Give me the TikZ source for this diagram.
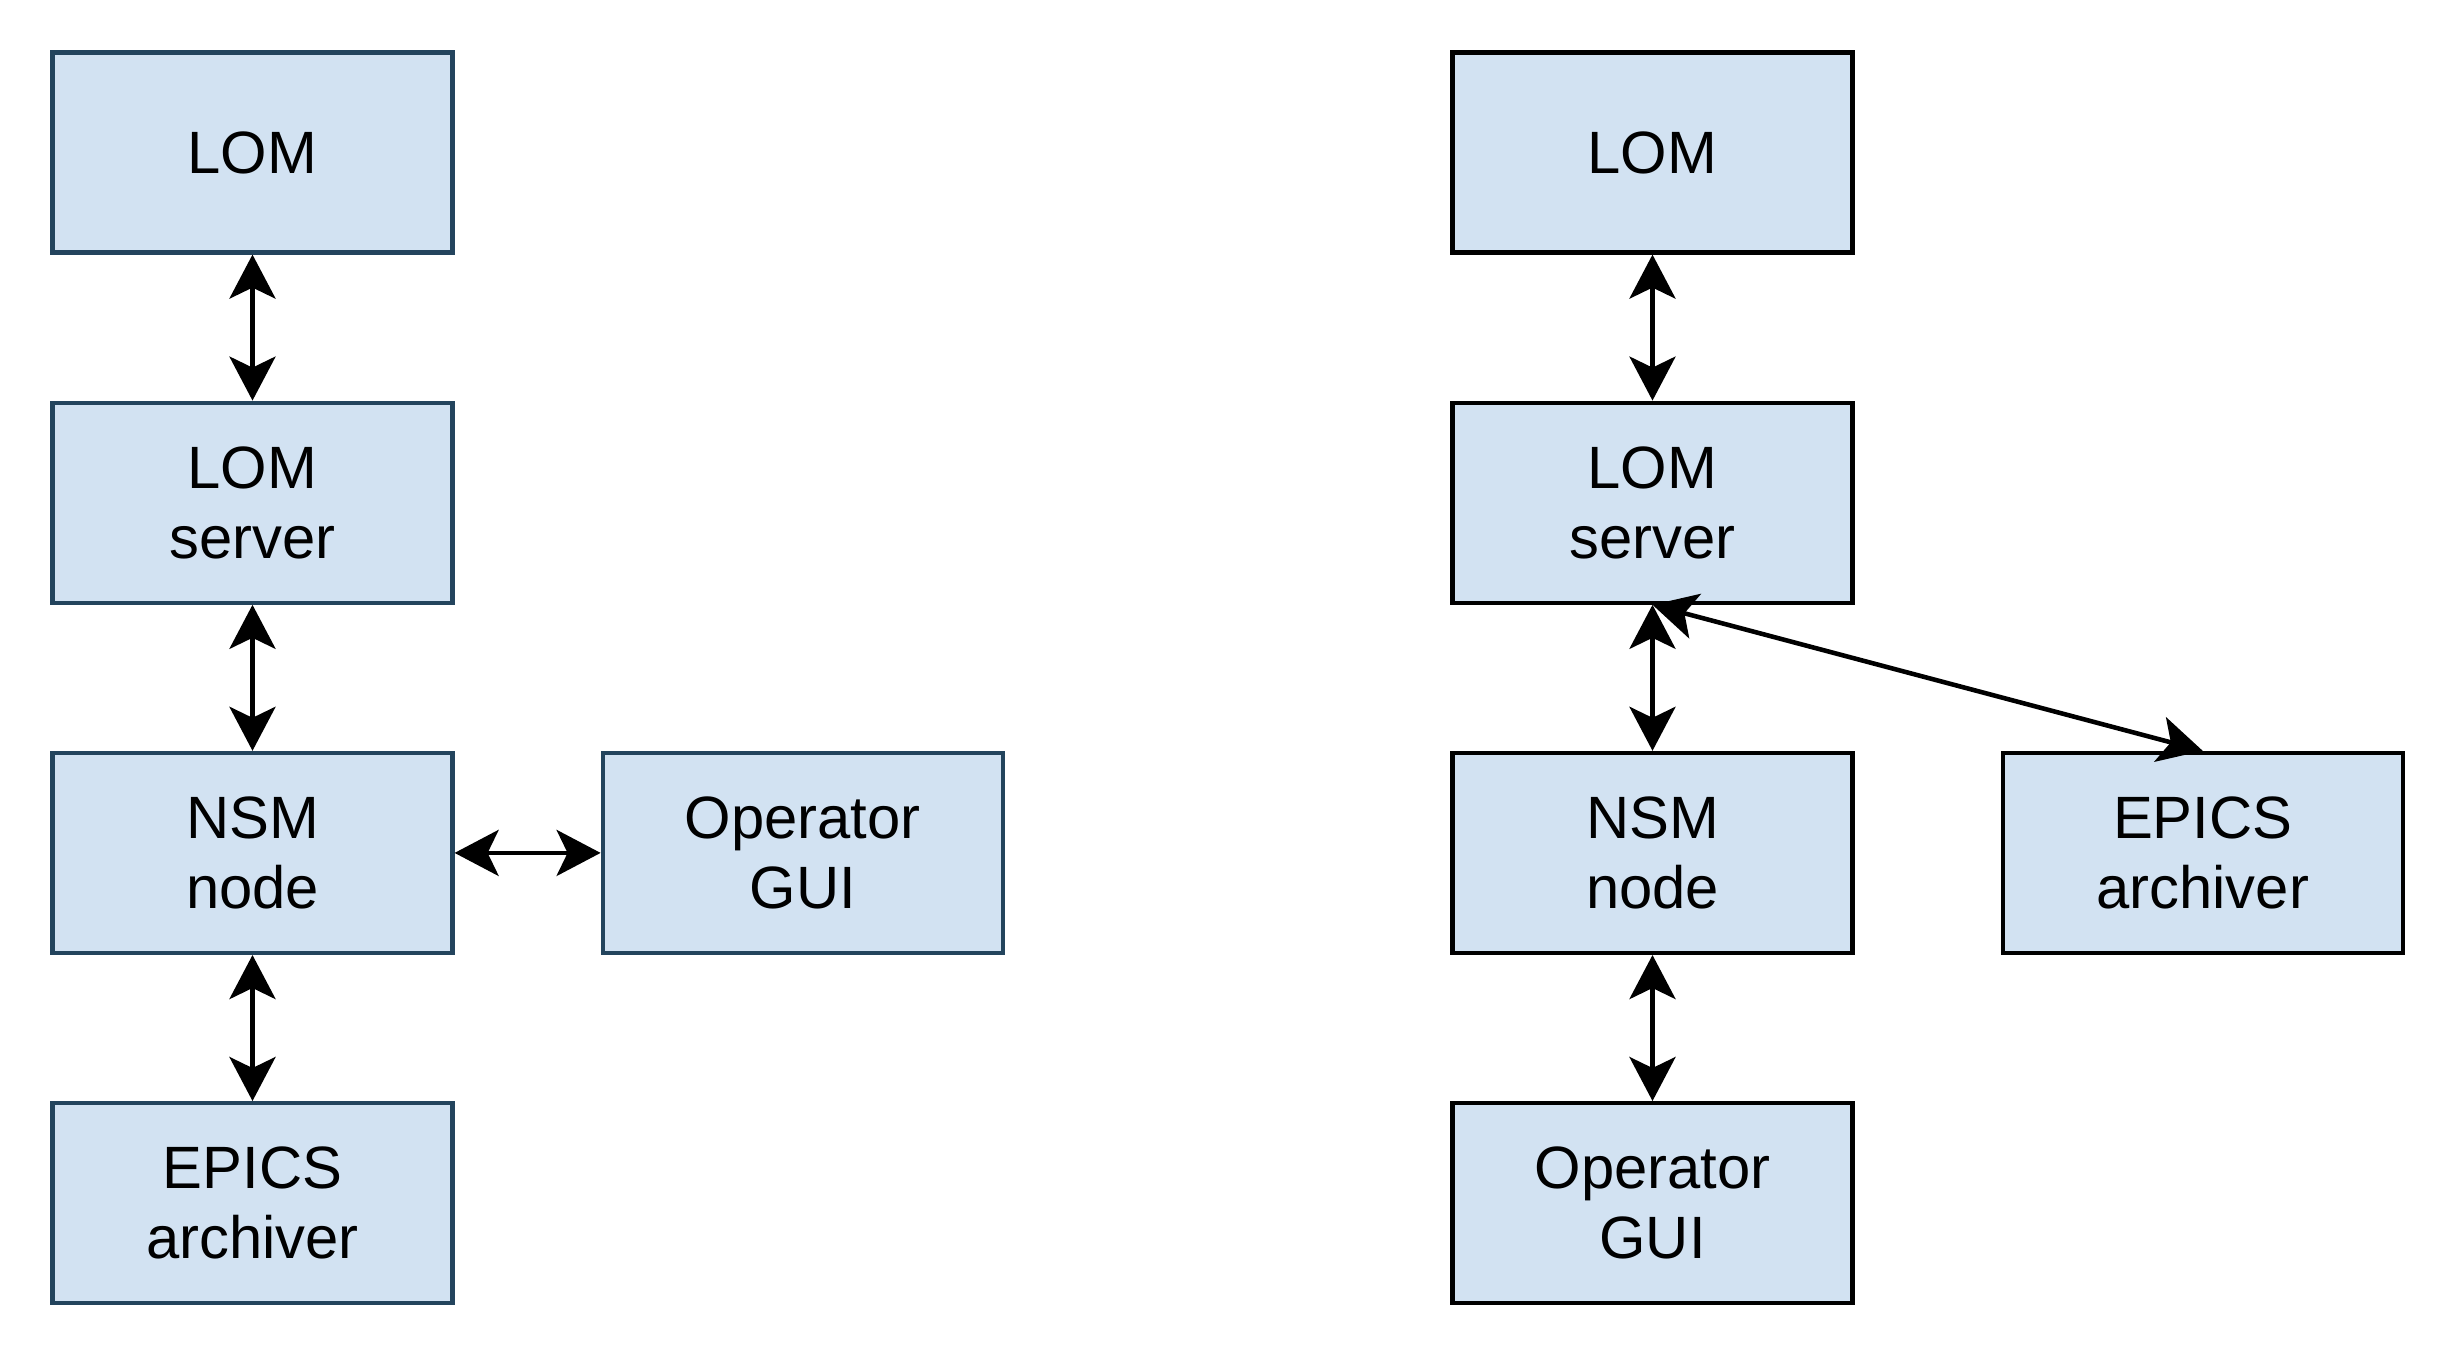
\documentclass[tikz,border=0pt]{standalone}
\usepackage{fontspec}
\setmainfont{Liberation Sans}
\usetikzlibrary{arrows.meta,positioning}
\definecolor{boxfill}{HTML}{D2E2F2}
\definecolor{boxline}{HTML}{23445D}
\tikzset{
  blk/.style   = {draw=boxline, fill=boxfill, line width=1.2pt,
                  minimum width=40mm, minimum height=20mm, inner sep=0pt,
                  align=center, font=\fontsize{17}{20}\selectfont},
  blkdk/.style = {blk, draw=black},
  bi/.style    = {{Stealth[length=4.4mm, width=4.6mm, inset=1.1mm]}-{Stealth[length=4.4mm, width=4.6mm, inset=1.1mm]},
                  line width=1.3pt}
}
\begin{document}
\begin{tikzpicture}[node distance=14.6mm and 14.6mm]
  \path[use as bounding box] (0,0) rectangle (24.55,-13.55);
  % first setup
  \node[blk] (lom) at (2.525,-1.525) {LOM};
  \node[blk, below=of lom] (srv) {LOM\\server};
  \node[blk, below=of srv] (nsm) {NSM\\node};
  \node[blk, right=of nsm] (gui) {Operator\\GUI};
  \node[blk, below=of nsm] (arch) {EPICS\\archiver};
  \draw[bi] (lom) -- (srv);
  \draw[bi] (srv) -- (nsm);
  \draw[bi] (nsm) -- (gui);
  \draw[bi] (nsm) -- (arch);
  % second setup
  \node[blkdk] (lomb) at (16.525,-1.525) {LOM};
  \node[blkdk, below=of lomb] (srvb) {LOM\\server};
  \node[blkdk, below=of srvb] (nsmb) {NSM\\node};
  \node[blkdk, right=of nsmb] (archb) {EPICS\\archiver};
  \node[blkdk, below=of nsmb] (guib) {Operator\\GUI};
  \draw[bi] (lomb) -- (srvb);
  \draw[bi] (srvb) -- (nsmb);
  \draw[bi] (srvb.south) -- (archb.north);
  \draw[bi] (nsmb) -- (guib);
\end{tikzpicture}
\end{document}
